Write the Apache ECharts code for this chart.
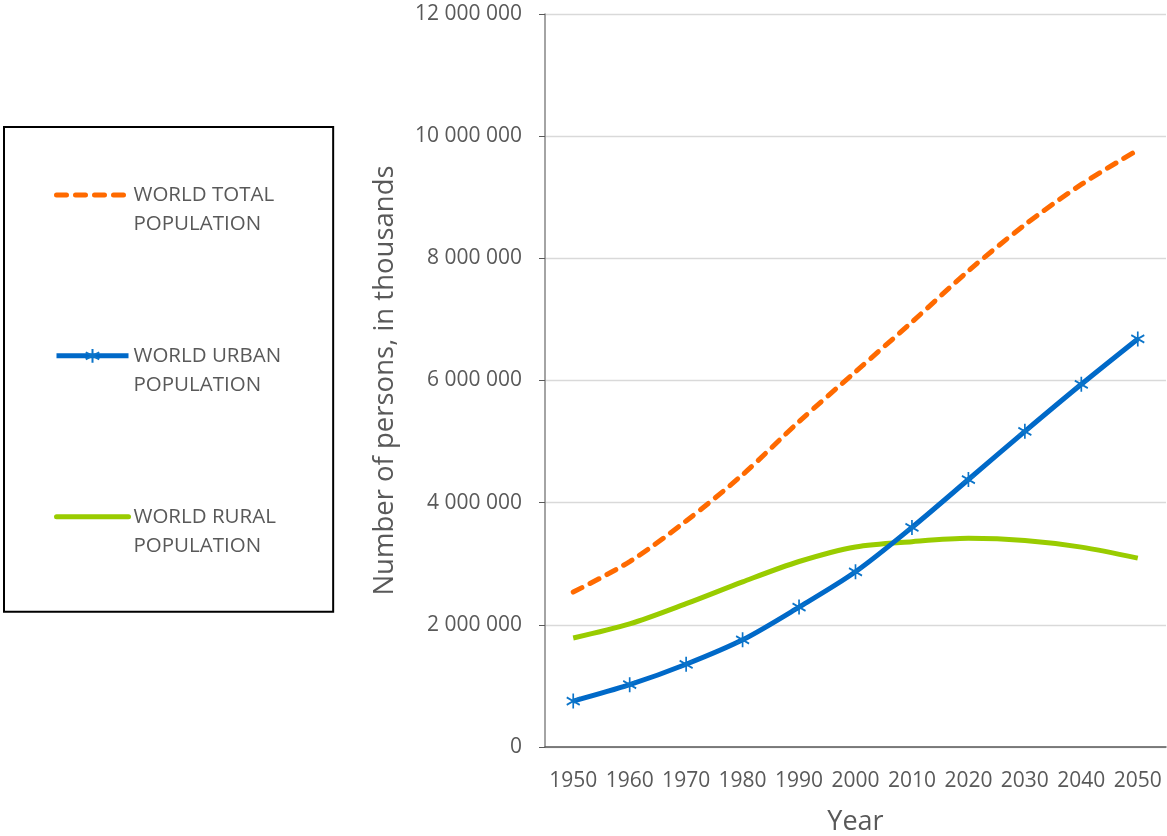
<!DOCTYPE html>
<html>
<head>
<meta charset="utf-8">
<script src="https://cdn.jsdelivr.net/npm/echarts@6/dist/echarts.min.js"></script>
<style>
html,body{margin:0;padding:0;background:#fff;}
#chart{width:1167px;height:836px;}
</style>
</head>
<body>
<div id="chart"></div>
<script>
const years = ['1950','1960','1970','1980','1990','2000','2010','2020','2030','2040','2050'];
const totalPop = [2536431, 3034949, 3700437, 4458003, 5327231, 6143494, 6956824, 7794799, 8548487, 9210337, 9771823];
const urbanPop = [751439, 1019495, 1354215, 1754201, 2290228, 2868308, 3594868, 4378994, 5167258, 5938000, 6679756];
const ruralPop = [1784992, 2015454, 2346222, 2703802, 3037003, 3275186, 3361956, 3415805, 3381229, 3272000, 3092067];
const seriesNames = ['WORLD TOTAL\nPOPULATION', 'WORLD URBAN\nPOPULATION', 'WORLD RURAL\nPOPULATION'];
const yTicks = {min: 0, max: 12000000, interval: 2000000};

const FONT = 'Open Sans';
const TXT = '#595959';
const ORANGE = '#FF6A00', BLUE = '#0069C8', GREEN = '#99CC00';
const chart = echarts.init(document.getElementById('chart'));
const fmt = v => String(v).replace(/\B(?=(\d{3})+(?!\d))/g, ' ');
const asterisk = 'path://M0,0 L0,20 M-8.66,5 L8.66,15 M-8.66,15 L8.66,5';
const dash = [10, 9];

chart.setOption({
  animation: false,
  textStyle: {fontFamily: FONT, color: TXT},
  grid: {left: 545, right: 1, top: 14, bottom: 89, containLabel: false, outerBoundsMode: 'none'},
  legend: {
    orient: 'vertical',
    left: 4, top: 127,
    padding: [24, 52, 51, 50],
    borderColor: '#000', borderWidth: 2,
    itemWidth: 72, itemHeight: 17, itemGap: 73,
    formatter: name => '\u00a0\n' + name,
    textStyle: {fontFamily: FONT, fontSize: 20.5, color: TXT, lineHeight: 29.3},
    data: [
      {name: seriesNames[0], itemStyle: {opacity: 0}, lineStyle: {width: 5, type: dash, cap: 'round', color: ORANGE}},
      {name: seriesNames[1], lineStyle: {width: 5, color: BLUE}},
      {name: seriesNames[2], itemStyle: {opacity: 0}, lineStyle: {width: 5, color: GREEN, cap: 'round'}}
    ]
  },
  xAxis: {
    type: 'category', data: years, boundaryGap: true,
    name: 'Year', nameLocation: 'middle', nameGap: 62,
    nameTextStyle: {fontFamily: FONT, fontSize: 27, color: TXT},
    axisLine: {lineStyle: {color: '#595959', width: 1.5}},
    axisTick: {alignWithLabel: true, length: 6, lineStyle: {color: '#595959'}},
    axisLabel: {fontFamily: FONT, fontSize: 21, color: TXT, margin: 24, interval: 0}
  },
  yAxis: {
    type: 'value', min: yTicks.min, max: yTicks.max, interval: yTicks.interval,
    name: 'Number of persons, in thousands', nameLocation: 'middle', nameGap: 146, nameRotate: 90,
    nameTextStyle: {fontFamily: FONT, fontSize: 27.5, color: TXT},
    axisLine: {show: true, lineStyle: {color: '#868686', width: 1.5}},
    axisTick: {show: true, length: 6, lineStyle: {color: '#595959'}},
    splitLine: {lineStyle: {color: '#d9d9d9', width: 1.3}},
    axisLabel: {fontFamily: FONT, fontSize: 21, color: TXT, margin: 23, formatter: fmt}
  },
  series: [
    {
      name: seriesNames[0], type: 'line', data: totalPop, smooth: 0.3,
      showSymbol: false, symbol: 'none',
      lineStyle: {color: ORANGE, width: 5, type: dash, cap: 'round'},
      itemStyle: {color: ORANGE}, z: 3
    },
    {
      name: seriesNames[1], type: 'line', data: urbanPop, smooth: 0.3,
      symbol: asterisk, symbolSize: [13, 15], showSymbol: true,
      lineStyle: {color: BLUE, width: 5},
      itemStyle: {color: '#0b74c9', borderColor: '#0b74c9', borderWidth: 1.8}, z: 4
    },
    {
      name: seriesNames[2], type: 'line', data: ruralPop, smooth: 0.3,
      showSymbol: false, symbol: 'none',
      lineStyle: {color: GREEN, width: 5},
      itemStyle: {color: GREEN}, z: 2
    }
  ]
});
</script>
</body>
</html>
